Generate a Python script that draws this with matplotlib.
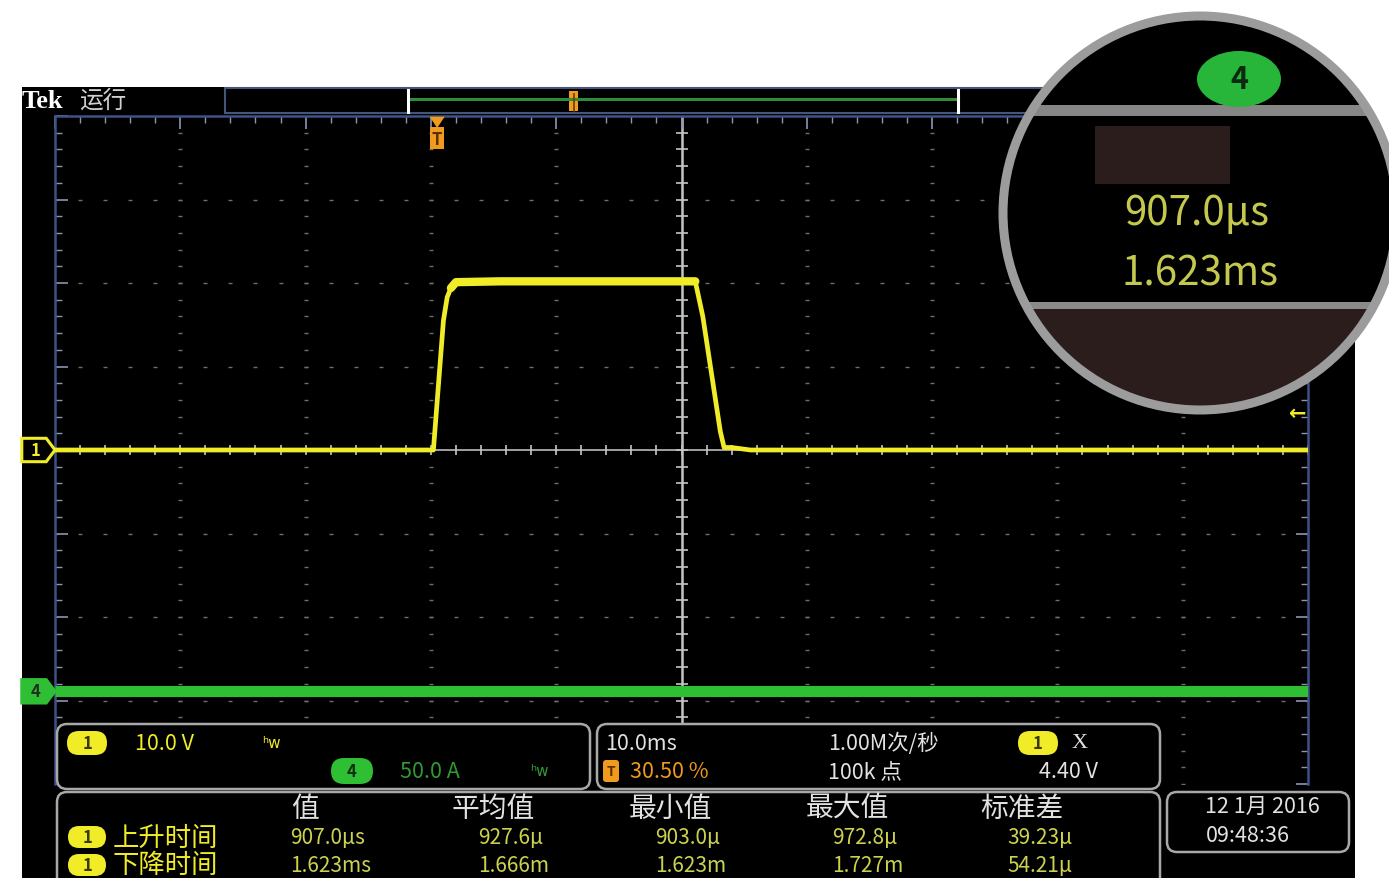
import numpy as np
import matplotlib.pyplot as plt
import matplotlib.transforms as mtransforms
from matplotlib.patches import Rectangle, FancyBboxPatch, Circle, Polygon, Ellipse

plt.rcParams['font.family'] = ['Noto Sans CJK SC', 'DejaVu Sans']

# 通道1 波形 (时间 ms, 电压 V)
ch1_t = [-30.5, -0.4, -0.3, 0.5, 0.8, 1.1, 1.5, 5.0, 10.0, 15.0, 20.6, 21.2, 22.6, 22.9, 23.5, 25.0, 69.5]
ch1_v = [0.0, 0.0, 0.0, 15.5, 18.3, 19.4, 20.1, 20.2, 20.2, 20.2, 20.2, 16.0, 2.2, 0.3, 0.3, 0.0, 0.0]
# 通道4 电流 (时间 ms, 电流 A)
ch4_t = [-30.5, 69.5]
ch4_a = [0.0, 0.0]

ch1_scale = 10.0   # V/div
ch4_scale = 50.0   # A/div
ch1_pos = 0.0      # div
ch4_pos = -2.89    # div
trig_level = 4.40  # V
trig_pct = 30.50   # %
time_div = 10.0    # ms/div

meas_cols = ['值', '平均值', '最小值', '最大值', '标准差']
meas_rows = ['上升时间', '下降时间']
rise_vals = ['907.0µs', '927.6µ', '903.0µ', '972.8µ', '39.23µ']
fall_vals = ['1.623ms', '1.666m', '1.623m', '1.727m', '54.21µ']

W, H = 1389, 879
YEL = '#f0ec28'
GRN = '#2fbf35'
ORG = '#f09a1e'
TXT = '#e2e2e2'
VAL = '#cdd24e'

fig = plt.figure(figsize=(W / 100, H / 100), dpi=100)
fig.patch.set_facecolor('white')

# 背景 (像素坐标)
bg = fig.add_axes([0, 0, 1, 1])
bg.set_xlim(0, W)
bg.set_ylim(H, 0)
bg.axis('off')
bg.add_patch(Rectangle((22, 88), 1333, 800, facecolor='black', edgecolor='none'))

# 示波器网格区
gx0, gx1, gy0, gy1 = 55, 1308, 117, 785
ax = fig.add_axes([gx0 / W, 1 - gy1 / H, (gx1 - gx0) / W, (gy1 - gy0) / H])
ax.set_facecolor('black')
t0 = -trig_pct / 100 * 10 * time_div
t1 = t0 + 10 * time_div
ax.set_xlim(t0, t1)
ax.set_ylim(-4, 4)
ax.set_xticks(np.arange(t0, t1 + 0.01, time_div))
ax.set_xticks(np.arange(t0, t1 + 0.01, time_div / 5), minor=True)
ax.set_yticks(np.arange(-4, 4.01, 1))
ax.set_yticks(np.arange(-4, 4.01, 0.2), minor=True)
ax.tick_params(which='both', direction='in', top=True, right=True, bottom=False, left=True,
               labelbottom=False, labelleft=False, colors='#8a96b4')
ax.tick_params(which='major', length=9, width=1.2)
ax.tick_params(which='minor', length=5, width=1)
for s in ['left', 'right', 'top']:
    ax.spines[s].set_color('#3d5288')
    ax.spines[s].set_linewidth(1.8)
ax.spines['bottom'].set_visible(False)

tc = (t0 + t1) / 2
xs_minor = np.arange(t0, t1 + 0.01, time_div / 5)
ys_minor = np.arange(-4, 4.01, 0.2)
for xv in np.arange(t0 + time_div, t1 - 0.01, time_div):
    if abs(xv - tc) < 1e-6:
        continue
    ax.plot([xv] * len(ys_minor), ys_minor, ls='none', marker='_', ms=3, mew=1, color='#6e6e6e', zorder=1)
for yv in range(-3, 4):
    if yv == 0:
        continue
    ax.plot(xs_minor, [yv] * len(xs_minor), ls='none', marker='_', ms=3.5, mew=1, color='#6e6e6e', zorder=1)
ax.axvline(tc, color='#c4c4c4', lw=1.8, zorder=1)
ax.axhline(0, color='#bcbcbc', lw=1.2, zorder=1)
ax.plot([tc] * len(ys_minor), ys_minor, ls='none', marker='_', ms=8, mew=1.2, color='#c4c4c4', zorder=1)
ax.plot(xs_minor, [0] * len(xs_minor), ls='none', marker='|', ms=7, mew=1.2, color='#c4c4c4', zorder=1)

# 波形
ax.plot(ch4_t, np.array(ch4_a) / ch4_scale + ch4_pos, color=GRN, lw=8, zorder=3,
        solid_capstyle='butt')
ch1_y = np.array(ch1_v) / ch1_scale + ch1_pos
ax.plot(ch1_t, ch1_y, color=YEL, lw=3.4, zorder=4, solid_joinstyle='round')
# 脉冲顶部噪声较大, 画粗一些
top = [i for i, v in enumerate(ch1_v) if v >= 19.0]
ax.plot([ch1_t[i] for i in top], [ch1_y[i] for i in top], color=YEL, lw=6, zorder=4,
        solid_capstyle='round', solid_joinstyle='round')

# 通道标记
bl = mtransforms.blended_transform_factory(ax.transAxes, ax.transData)
def ch_tag(pos, label, filled, color):
    dx = 0.0265
    pts = [(-dx, pos + 0.14), (-0.007, pos + 0.14), (0, pos), (-0.007, pos - 0.14), (-dx, pos - 0.14)]
    ax.add_patch(Polygon(pts, closed=True, transform=bl, clip_on=False,
                         facecolor=color if filled else 'black', edgecolor=color, lw=2.2, zorder=5))
    ax.text(-0.0155, pos, label, transform=bl, ha='center', va='center', fontsize=12,
            fontweight='bold', color='#203020' if filled else color, clip_on=False, zorder=6)
ch_tag(ch1_pos, '1', False, YEL)
ch_tag(ch4_pos, '4', True, GRN)

# 触发电平箭头
ax.text(0.992, trig_level / ch1_scale + ch1_pos, '←', transform=bl, ha='center', va='center',
        fontsize=15, color=YEL, fontweight='bold', family='DejaVu Sans', zorder=6)

# 触发位置标记
bt = mtransforms.blended_transform_factory(ax.transData, ax.transAxes)
ax.add_patch(Polygon([(-0.6, 0.999), (0.6, 0.999), (0, 0.982)], closed=True, transform=bt,
                     facecolor=ORG, edgecolor='none', clip_on=False, zorder=6))
ax.add_patch(Rectangle((-0.55, 0.951), 1.1, 0.032, transform=bt, facecolor=ORG,
                       edgecolor='none', clip_on=False, zorder=6))
ax.text(0, 0.966, 'T', transform=bt, ha='center', va='center', fontsize=12, fontweight='bold',
        color='#5a3000', zorder=7)

# 覆盖层 (像素坐标)
ov = fig.add_axes([0, 0, 1, 1])
ov.set_xlim(0, W)
ov.set_ylim(H, 0)
ov.axis('off')

ov.text(22, 102, 'Tek', fontsize=19, fontweight='bold', color='white', va='center', ha='left',
        family='Liberation Serif')
ov.text(79, 101, '运行', fontsize=17, color='#d0d0d0', va='center', ha='left')
ov.add_patch(Rectangle((225, 89), 1130, 25, facecolor='black', edgecolor='#46557a', lw=1.5))
ov.plot([408, 958], [100, 100], color='#2e8c3c', lw=2.2)
for bx in [408, 958]:
    ov.plot([bx, bx], [91, 113], color='white', lw=2.2)
ov.add_patch(Rectangle((569, 92), 9, 20, facecolor=ORG, edgecolor='none'))
ov.plot([573.5, 573.5], [95, 112], color='#6a3a00', lw=1.2)


def rbox(x, y, w, h, r=10, ec='#a8a8a8', fc='black', lw=1.8):
    ov.add_patch(FancyBboxPatch((x, y), w, h, boxstyle=f'round,pad=0,rounding_size={r}',
                                facecolor=fc, edgecolor=ec, lw=lw))


def badge(cx, cy, label, fc, tc, w=40, h=24):
    ov.add_patch(FancyBboxPatch((cx - w / 2, cy - h / 2), w, h,
                                boxstyle=f'round,pad=0,rounding_size={h / 2}',
                                facecolor=fc, edgecolor='none'))
    ov.text(cx, cy, label, ha='center', va='center', fontsize=12, fontweight='bold', color=tc)


# 通道设置面板
rbox(57, 725, 533, 65)
badge(87, 744, '1', YEL, '#3a3a00')
ov.text(135, 744, f'{ch1_scale:.1f} V', fontsize=15.5, color=YEL, va='center', ha='left')
ov.text(262, 744, 'ʰw', fontsize=11, color=YEL, va='center', ha='left', family='DejaVu Sans')
badge(352, 772, '4', GRN, '#103010', w=42, h=26)
ov.text(400, 772, f'{ch4_scale:.1f} A', fontsize=15.5, color='#2f9a33', va='center', ha='left')
ov.text(530, 772, 'ʰw', fontsize=11, color='#2f9a33', va='center', ha='left', family='DejaVu Sans')

# 水平/触发面板
rbox(597, 725, 563, 65)
ov.text(605, 744, f'{time_div:.1f}ms', fontsize=15.5, color=TXT, va='center', ha='left')
ov.add_patch(FancyBboxPatch((603, 761), 16, 22, boxstyle='round,pad=0,rounding_size=3',
                            facecolor=ORG, edgecolor='none'))
ov.text(611, 772, 'T', fontsize=10, fontweight='bold', color='#5a3000', va='center', ha='center')
ov.text(630, 772, f'{trig_pct:.2f} %', fontsize=15.5, color=ORG, va='center', ha='left')
ov.text(828, 744, '1.00M次/秒', fontsize=15.5, color=TXT, va='center', ha='left')
ov.text(828, 772, '100k 点', fontsize=15.5, color=TXT, va='center', ha='left')
badge(1038, 744, '1', YEL, '#3a3a00')
ov.text(1072, 744, 'X', fontsize=16, color=TXT, va='center', ha='left', family='Liberation Serif')
ov.text(1098, 772, f'{trig_level:.2f} V', fontsize=15.5, color=TXT, va='center', ha='right')

# 测量面板
rbox(57, 793, 1103, 120)
col_x = [305, 493, 670, 847, 1022]
for cx, lab in zip(col_x, meas_cols):
    ov.text(cx, 809, lab, fontsize=20, color=TXT, va='center', ha='center')
for ry, lab, vals in zip([838, 866], meas_rows, [rise_vals, fall_vals]):
    badge(87, ry, '1', YEL, '#3a3a00', w=38, h=22)
    ov.text(113, ry, lab, fontsize=19, color=YEL, va='center', ha='left')
    for cx, v in zip(col_x, vals):
        ov.text(cx - 15, ry, v, fontsize=15, color=VAL, va='center', ha='left')

# 日期面板
rbox(1167, 793, 182, 60)
ov.text(1262, 807, '12 1月 2016', fontsize=15.5, color=TXT, va='center', ha='center')
ov.text(1248, 836, '09:48:36', fontsize=15.5, color=TXT, va='center', ha='center')

# 放大镜
lens = Circle((1200, 214), 196, facecolor='black', edgecolor='none')
ov.add_patch(lens)
inner = [
    Rectangle((1000, 310), 400, 120, facecolor='#2b1d1b', edgecolor='none'),
    Rectangle((1000, 106), 400, 11, facecolor='#868686', edgecolor='none'),
    Rectangle((1000, 303), 400, 7, facecolor='#8a8a8a', edgecolor='none'),
    Rectangle((1095, 127), 135, 58, facecolor='#2b1d1b', edgecolor='none'),
    Ellipse((1239, 80), 84, 56, facecolor='#27b53a', edgecolor='none'),
]
for p in inner:
    ov.add_patch(p)
    p.set_clip_path(lens)
ov.text(1239, 80, '4', ha='center', va='center', fontsize=22, fontweight='bold', color='#0c2a10')
ov.text(1197, 214, rise_vals[0], ha='center', va='center', fontsize=29, color='#c4c84e')
ov.text(1200, 274, fall_vals[0], ha='center', va='center', fontsize=29, color='#c4c84e')
ov.add_patch(Circle((1200, 214), 197, facecolor='none', edgecolor='#9c9c9c', lw=6.5))

fig.savefig('out.png', dpi=100, facecolor='white')
